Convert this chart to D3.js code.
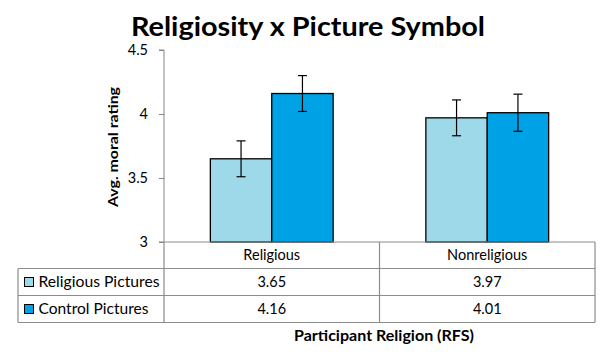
<!DOCTYPE html>
<html><head><meta charset="utf-8">
<script src="https://cdn.jsdelivr.net/npm/d3@7"></script>
<style>body{margin:0;background:#fff}svg{display:block}text{font-family:Lato,"Open Sans",sans-serif;fill:#000}</style>
</head><body><svg id="c" width="605" height="357"></svg>
<script>
const categories = ["Religious", "Nonreligious"];
const seriesNames = ["Religious Pictures", "Control Pictures"];
const religiousPictures = [3.65, 3.97];
const controlPictures = [4.16, 4.01];
const religiousErr = [0.14, 0.14];
const controlErr = [0.14, 0.145];
const yTicks = [3, 3.5, 4, 4.5];
const colors = ["#9ed9ea", "#00a2e6"];

(function(){
const svg = d3.select("#c");
const pL = 164, pR = 595, pT = 50, pB = 242;
const x = d3.scaleBand().domain(categories).range([pL, pR]);
const sub = d3.scaleBand().domain(seriesNames).range([0, x.bandwidth()]).paddingOuter(0.755).paddingInner(0);
const y = d3.scaleLinear().domain([3, 4.5]).range([pB, pT]);

function fit(sel, w) {
  sel.each(function(){ const n=this; const l=n.getComputedTextLength(); if(l>0){ n.setAttribute("textLength", w); n.setAttribute("lengthAdjust","spacingAndGlyphs"); }});
}

svg.append("text").attr("x", 308).attr("y", 36).attr("text-anchor","middle")
  .style("font-size","27px").style("font-weight","bold").text("Religiosity x Picture Symbol").call(fit, 354);

const yAxis = d3.axisLeft(y).tickValues(yTicks).tickSize(5).tickFormat(d3.format("~g"));
const ga = svg.append("g").attr("transform",`translate(${pL},0)`).call(yAxis);
ga.select(".domain").attr("stroke","#868686").attr("d",`M-5,${pT}H0V${pB}H-5`);
ga.selectAll(".tick line").attr("stroke","#868686");
ga.selectAll(".tick text").style("font-size","14.5px").attr("x",-16).attr("dy","0.34em").style("font-family","Lato");

svg.append("text").attr("transform",`translate(118,147) rotate(-90)`).attr("text-anchor","middle")
  .style("font-size","13.5px").style("font-weight","bold").text("Avg. moral rating").call(fit, 120);

const data = [];
categories.forEach((c,i)=>{
  data.push({c, s:seriesNames[0], v:religiousPictures[i], e:religiousErr[i], col:colors[0]});
  data.push({c, s:seriesNames[1], v:controlPictures[i], e:controlErr[i], col:colors[1]});
});
const g = svg.append("g");
g.selectAll("rect").data(data).join("rect")
  .attr("x", d=>x(d.c)+sub(d.s)).attr("width", sub.bandwidth())
  .attr("y", d=>y(d.v)).attr("height", d=>y(3)-y(d.v))
  .attr("fill", d=>d.col).attr("stroke","#000").attr("stroke-width",1.3);

const eb = g.selectAll("g.eb").data(data).join("g").attr("class","eb")
  .attr("transform", d=>`translate(${x(d.c)+sub(d.s)+sub.bandwidth()/2},0)`);
eb.append("line").attr("y1",d=>y(d.v+d.e)).attr("y2",d=>y(d.v-d.e)).attr("stroke","#000").attr("stroke-width",1.2);
eb.append("line").attr("x1",-4.5).attr("x2",4.5).attr("y1",d=>y(d.v+d.e)).attr("y2",d=>y(d.v+d.e)).attr("stroke","#000").attr("stroke-width",1.2);
eb.append("line").attr("x1",-4.5).attr("x2",4.5).attr("y1",d=>y(d.v-d.e)).attr("y2",d=>y(d.v-d.e)).attr("stroke","#000").attr("stroke-width",1.2);

const tLeft = 18, rowH = [242, 268.5, 295.5, 322.5];
const tg = svg.append("g").attr("stroke","#8c8c8c").attr("stroke-width",1.2).attr("fill","none");
tg.append("line").attr("x1",pL).attr("x2",pR).attr("y1",rowH[0]).attr("y2",rowH[0]);
[1,2,3].forEach(i=> tg.append("line").attr("x1",tLeft).attr("x2",pR).attr("y1",rowH[i]).attr("y2",rowH[i]));
tg.append("line").attr("x1",tLeft).attr("x2",tLeft).attr("y1",rowH[1]).attr("y2",rowH[3]);
[pL, x(categories[1]), pR].forEach(xx=> tg.append("line").attr("x1",xx).attr("x2",xx).attr("y1",rowH[0]).attr("y2",rowH[3]));

svg.selectAll("text.hdr").data(categories).join("text").attr("class","hdr")
  .attr("x", d=>x(d)+x.bandwidth()/2).attr("y", (rowH[0]+rowH[1])/2).attr("dy","0.36em")
  .attr("text-anchor","middle").style("font-size","14.5px").text(d=>d);

const rows = [religiousPictures, controlPictures];
rows.forEach((vals,ri)=>{
  const cy = (rowH[ri+1]+rowH[ri+2])/2;
  svg.append("rect").attr("x",24.5).attr("y",cy-4.5).attr("width",9).attr("height",9)
    .attr("fill",colors[ri]).attr("stroke","#000").attr("stroke-width",1);
  svg.append("text").attr("x",38.5).attr("y",cy).attr("dy","0.36em").style("font-size","14.5px")
    .text(seriesNames[ri]).call(fit, ri===0?121:110);
  svg.selectAll(null).data(vals).join("text")
    .attr("x",(d,i)=>x(categories[i])+x.bandwidth()/2).attr("y",cy).attr("dy","0.36em")
    .attr("text-anchor","middle").style("font-size","14.5px").text(d=>d.toFixed(2));
});

svg.append("text").attr("x",384).attr("y",341).attr("text-anchor","middle")
  .style("font-size","15px").style("font-weight","bold").text("Participant Religion (RFS)").call(fit, 180);
})();
</script></body></html>
